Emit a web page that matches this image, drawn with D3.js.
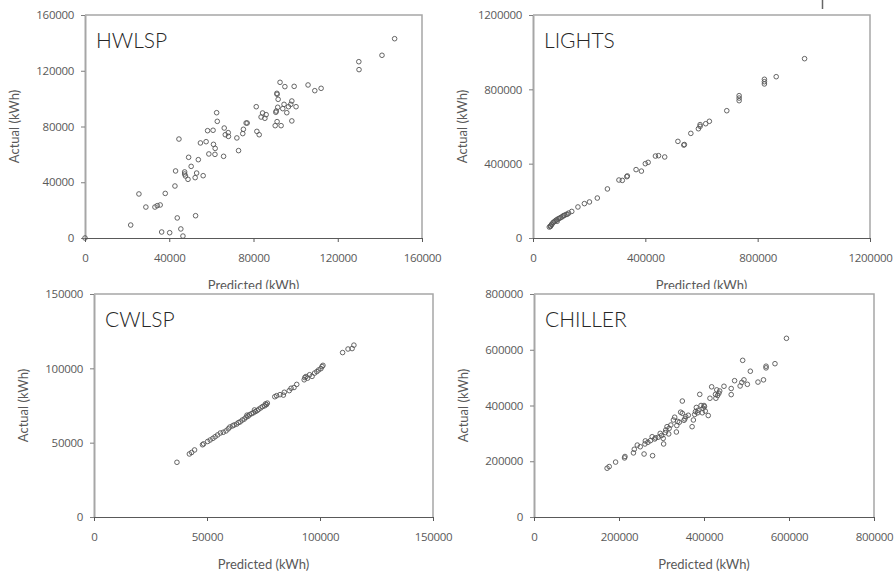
<!DOCTYPE html>
<html>
<head>
<meta charset="utf-8">
<script src="https://cdn.jsdelivr.net/npm/d3@7"></script>
<style>
  body { margin: 0; background: #fff; }
  text { font-family: Lato, "Open Sans", sans-serif; }
</style>
</head>
<body>
<script>
// values, in thousands of kWh for brevity (scaled below)
const hwPred = [0,21.7,25.6,28.9,33.2,34.3,35.7,36.4,38.1,40.2,42.7,43.0,43.8,44.6,45.5,46.5,47.3,47.3,47.7,49.2,48.9,50.4,52.3,52.5,53.0,53.8,54.8,56.1,57.5,58.2,58.8,60.8,61.0,61.7,61.8,62.5,62.8,65.8,66.1,66.6,68.0,68.1,72.1,72.9,74.9,75.2,76.5,77.0,81.3,81.6,82.7,83.6,84.3,85.4,86.0,90.3,90.8,91.1,91.2,91.7,91.2,91.5,92.6,93.1,93.9,94.5,94.9,95.8,96.6,97.7,98.2,98.2,99.3,100.2,105.9,109.1,112.1,130.0,130.1,141.0,147.0,90.6];
const hwAct  = [0,9.3,31.6,22.2,22.2,23.2,23.7,4.3,32.0,3.8,37.3,48.1,14.4,71.0,6.5,1.4,47.4,45.9,44.5,57.9,42.1,51.4,43.3,16.0,46.6,56.2,68.2,44.7,69.1,77.0,60.3,77.3,67.2,60.0,64.3,89.9,83.7,58.6,78.9,74.1,75.6,72.9,71.8,62.7,74.9,78.0,82.5,82.5,94.2,76.5,74.1,86.8,89.7,85.9,88.5,80.6,91.1,103.8,103.1,99.5,83.5,93.8,111.7,80.6,92.8,95.9,108.6,89.9,94.2,95.9,98.3,84.0,108.8,94.2,109.8,105.7,107.4,126.5,120.8,131.1,143.0,90.2];

const ltPred = [967,866,824,824,824,734,734,734,690,628,615,595,595,589,562,537,539,516,469,447,436,410,400,386,367,336,334,318,306,265,229,201,183,160,138,127,118,108,99,90,81,72,63,58,66,76,85,95,104,112,122,68,86,62];
const ltAct  = [965,868,854,841,829,766,753,739,685,628,615,610,601,588,563,500,503,520,436,443,441,407,400,360,368,334,330,310,312,264,215,194,185,167,143,134,127,120,111,104,95,84,66,59,72,88,98,106,114,122,128,76,90,62];

const cwPred = [36.7,42.2,43.2,44.5,48.0,48.5,50.3,51.4,52.6,53.6,54.7,55.9,57.2,58.4,59.4,60.1,61.3,62.0,63.1,63.9,64.7,65.6,66.5,67.3,68.2,68.8,69.7,70.5,71.4,72.2,72.9,73.8,74.6,75.5,76.3,76.7,75.9,71.0,67.7,80.0,80.8,82.3,83.8,84.2,86.4,87.2,88.5,89.7,93.0,93.3,93.8,94.5,95.4,96.5,97.6,98.6,99.4,100.4,100.9,101.3,110.0,112.4,114.2,115.0];
const cwAct  = [36.8,42.4,43.4,45.1,48.6,49.2,50.8,51.8,52.9,54.0,55.2,56.5,57.0,57.9,59.3,60.5,61.3,61.9,62.5,63.5,64.0,65.2,65.9,67.1,67.8,68.8,69.5,70.1,70.9,71.6,72.5,73.4,74.3,74.8,75.6,76.6,76.1,72.0,68.5,80.9,81.6,82.3,82.0,83.9,85.0,86.6,87.1,89.2,92.3,93.8,94.5,93.4,95.7,94.6,96.8,97.8,98.9,99.8,101.2,102.0,110.6,113.0,113.3,115.6];

const chPred = [594,491,567,546,546,509,540,527,472,494,489,502,485,447,418,430,435,432,428,464,464,390,349,414,410,401,398,393,403,396,380,382,378,375,372,363,353,345,349,336,335,331,328,313,309,317,304,300,297,305,279,278,284,274,262,261,259,243,250,236,234,214,213,192,177,172,338,342,355,386,322,318,310,292,286,268,437,427,357,385,400];
const chAct  = [641,562,550,541,535,523,492,484,489,492,483,476,470,469,467,456,444,436,426,461,439,440,416,426,364,396,390,400,380,374,378,393,368,348,324,365,347,376,372,328,305,358,348,324,303,298,282,292,300,262,220,288,280,274,273,262,226,258,252,243,230,217,212,197,181,175,343,340,352,383,330,318,312,286,284,268,452,440,360,374,400];

const panelNames = ['HWLSP', 'LIGHTS', 'CWLSP', 'CHILLER'];
const hwTicks = [0, 40000, 80000, 120000, 160000];
const ltTicks = [0, 400000, 800000, 1200000];
const cwTicks = [0, 50000, 100000, 150000];
const chTicks = [0, 200000, 400000, 600000, 800000];
const xTitle = 'Predicted (kWh)';
const yTitle = 'Actual (kWh)';

const svg = d3.select('body').append('svg')
  .attr('width', 896)
  .attr('height', 572);

// top row gets cut off at y=289 like in the picture
svg.append('defs').append('clipPath')
  .attr('id', 'topclip')
  .append('rect')
    .attr('x', 0).attr('y', 0).attr('width', 896).attr('height', 289);

const panels = [
  {name: panelNames[0], px: hwPred, py: hwAct, ticks: hwTicks, box: [85, 422, 15, 238], top: true},
  {name: panelNames[1], px: ltPred, py: ltAct, ticks: ltTicks, box: [533, 870, 15, 238], top: true},
  {name: panelNames[2], px: cwPred, py: cwAct, ticks: cwTicks, box: [94, 433, 294, 517], top: false},
  {name: panelNames[3], px: chPred, py: chAct, ticks: chTicks, box: [534, 874, 294, 517], top: false}
];

panels.forEach(function(p) {
  const [l, r, t, b] = p.box;
  const max = p.ticks[p.ticks.length - 1];

  const x = d3.scaleLinear().domain([0, max]).range([l, r]);
  const y = d3.scaleLinear().domain([0, max]).range([b, t]);

  const g = svg.append('g');
  if (p.top) g.attr('clip-path', 'url(#topclip)');

  // plot border (top and right)
  g.append('path')
    .attr('d', `M${l},${t}H${r}V${b}`)
    .attr('fill', 'none')
    .attr('stroke', '#a6a6a6')
    .attr('stroke-width', 1.5);

  const gy = g.append('g')
    .attr('transform', `translate(${l},0)`)
    .call(d3.axisLeft(y).tickValues(p.ticks).tickFormat(d3.format('d'))
      .tickSize(4).tickSizeOuter(0).tickPadding(7));
  gy.select('.domain').attr('stroke', '#a6a6a6').attr('stroke-width', 2);
  gy.selectAll('.tick line').attr('stroke', '#7f7f7f');

  const gx = g.append('g')
    .attr('transform', `translate(0,${b})`)
    .call(d3.axisBottom(x).tickValues(p.ticks).tickFormat(d3.format('d'))
      .tickSize(4).tickSizeOuter(0).tickPadding(12));
  gx.select('.domain').attr('stroke', '#595959');
  gx.selectAll('.tick line').attr('stroke', '#595959');

  g.selectAll('.tick text')
    .attr('fill', '#595959')
    .style('font-size', '11.5px')
    .style('font-family', '"Open Sans", Lato, sans-serif')
    .style('letter-spacing', '-0.3px');

  g.append('text')
    .attr('x', (l + r) / 2)
    .attr('y', b + 52)
    .attr('text-anchor', 'middle')
    .attr('fill', '#595959')
    .style('font-size', '13px')
    .text(xTitle);

  g.append('text')
    .attr('transform', `translate(${l - 66},${(t + b) / 2}) rotate(-90)`)
    .attr('text-anchor', 'middle')
    .attr('fill', '#595959')
    .style('font-size', '13px')
    .text(yTitle);

  g.append('text')
    .attr('x', l + 11)
    .attr('y', t + 33)
    .attr('fill', '#262626')
    .style('font-size', '21px')
    .style('font-weight', 300)
    .text(p.name);

  const pts = p.px.map((v, i) => [v * 1000, p.py[i] * 1000]);
  g.selectAll('circle.pt')
    .data(pts)
    .enter().append('circle')
    .attr('class', 'pt')
    .attr('cx', d => x(d[0]))
    .attr('cy', d => y(d[1]))
    .attr('r', 2.3)
    .attr('fill', 'none')
    .attr('stroke', '#555')
    .attr('stroke-width', 0.9);
});

// small stray mark at the top right of the picture
svg.append('line')
  .attr('x1', 822.5).attr('x2', 822.5)
  .attr('y1', 0).attr('y2', 9)
  .attr('stroke', '#666')
  .attr('stroke-width', 1.5);
</script>
</body>
</html>
